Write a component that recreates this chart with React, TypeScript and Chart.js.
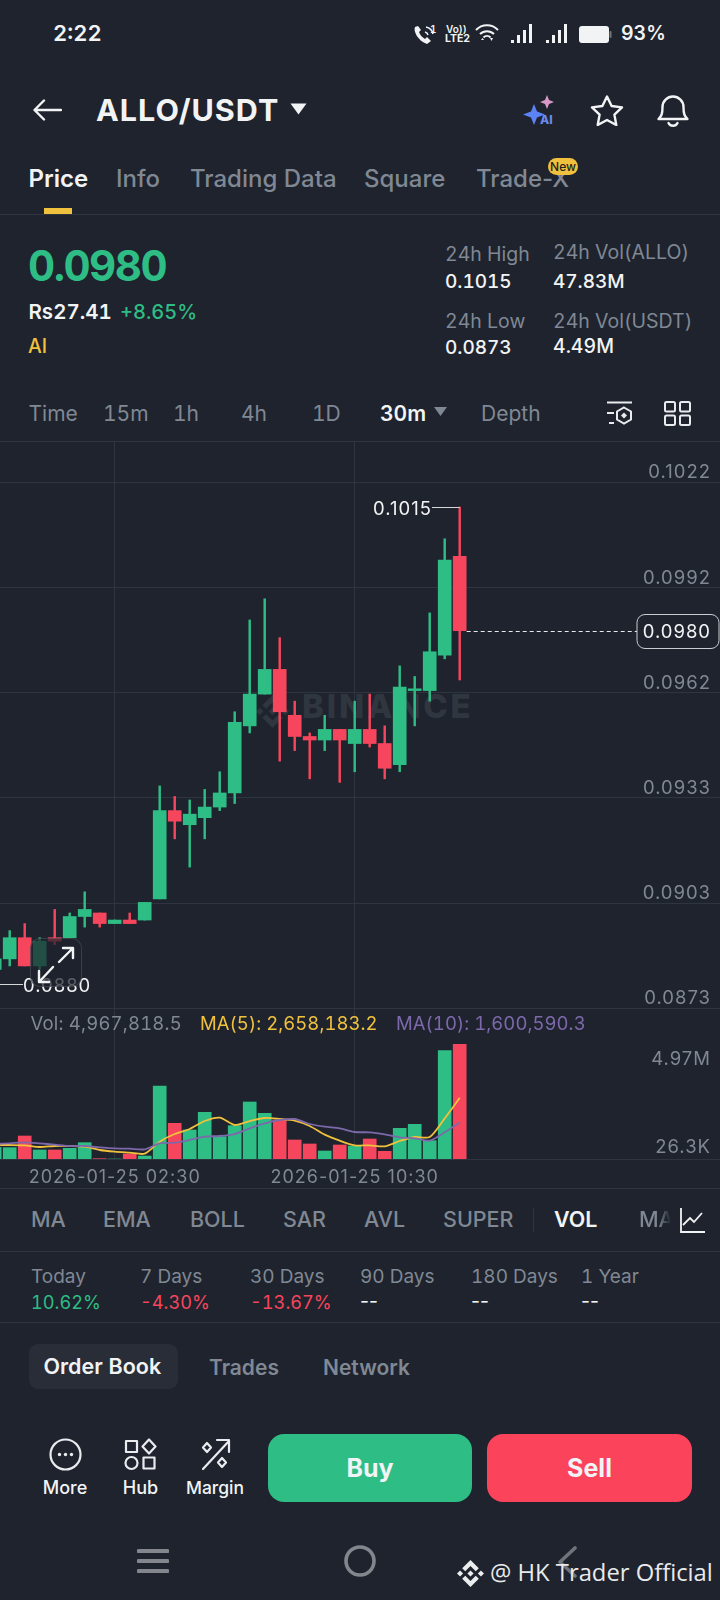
import React, { useEffect, useRef } from "react";
import { Chart, registerables } from "chart.js";

Chart.register(...registerables);

const candleTimes = [
  "2026-01-24 22:30", "2026-01-24 23:00", "2026-01-24 23:30", "2026-01-25 00:00",
  "2026-01-25 00:30", "2026-01-25 01:00", "2026-01-25 01:30", "2026-01-25 02:00",
  "2026-01-25 02:30", "2026-01-25 03:00", "2026-01-25 03:30", "2026-01-25 04:00",
  "2026-01-25 04:30", "2026-01-25 05:00", "2026-01-25 05:30", "2026-01-25 06:00",
  "2026-01-25 06:30", "2026-01-25 07:00", "2026-01-25 07:30", "2026-01-25 08:00",
  "2026-01-25 08:30", "2026-01-25 09:00", "2026-01-25 09:30", "2026-01-25 10:00",
  "2026-01-25 10:30", "2026-01-25 11:00", "2026-01-25 11:30", "2026-01-25 12:00",
  "2026-01-25 12:30", "2026-01-25 13:00", "2026-01-25 13:30", "2026-01-25 14:00",
];
const opens = [0.0884, 0.0887, 0.0893, 0.0885, 0.0893, 0.0893, 0.0899, 0.09, 0.0897, 0.0898, 0.0898, 0.0904, 0.0929, 0.0925, 0.0927, 0.093, 0.0934, 0.0953, 0.0962, 0.0969, 0.0956, 0.095, 0.0949, 0.0952, 0.0948, 0.0952, 0.0948, 0.0942, 0.0963, 0.0963, 0.0973, 0.1001];
const highs = [0.0887, 0.0895, 0.0897, 0.0893, 0.0901, 0.09, 0.0906, 0.09, 0.0898, 0.09, 0.0903, 0.0936, 0.0933, 0.0932, 0.0935, 0.094, 0.0957, 0.0983, 0.0989, 0.0978, 0.096, 0.0951, 0.0956, 0.0952, 0.096, 0.0962, 0.0953, 0.097, 0.0967, 0.0985, 0.1006, 0.1015];
const lows = [0.088, 0.0885, 0.0885, 0.0884, 0.0891, 0.0893, 0.0896, 0.0896, 0.0897, 0.0897, 0.0898, 0.0904, 0.0921, 0.0913, 0.0921, 0.0929, 0.0931, 0.0951, 0.0962, 0.0943, 0.0946, 0.0938, 0.0946, 0.0937, 0.094, 0.0947, 0.0938, 0.094, 0.0953, 0.096, 0.0972, 0.0966];
const closes = [0.0887, 0.0893, 0.0885, 0.0892, 0.0892, 0.0899, 0.0901, 0.0897, 0.0898, 0.0897, 0.0903, 0.0929, 0.0926, 0.0928, 0.093, 0.0934, 0.0954, 0.0962, 0.0969, 0.0957, 0.095, 0.0949, 0.0952, 0.0949, 0.0952, 0.0948, 0.0941, 0.0964, 0.09635, 0.0974, 0.1, 0.098];
const volumes = [529000, 515000, 1017000, 414000, 414000, 486000, 730000, 40000, 26300, 242000, 155000, 3171000, 1563000, 1276000, 2037000, 988000, 1462000, 2482000, 1994000, 1706000, 845000, 673000, 371000, 630000, 586000, 888000, 357000, 1347000, 1520000, 816000, 4693000, 4967818.5];
const ma5 = [629000, 629000, 615000, 543000, 586000, 586000, 558000, 414000, 342000, 299000, 256000, 773000, 1103000, 1319000, 1663000, 1807000, 1491000, 1663000, 1793000, 1750000, 1678000, 1448000, 1075000, 816000, 615000, 615000, 572000, 802000, 974000, 974000, 1778000, 2658183.2];
const ma10 = [673000, 701000, 744000, 701000, 644000, 586000, 586000, 529000, 486000, 471000, 443000, 701000, 730000, 845000, 988000, 1017000, 1103000, 1347000, 1563000, 1706000, 1750000, 1534000, 1419000, 1347000, 1189000, 1175000, 1089000, 960000, 917000, 816000, 1175000, 1600590.3];
const priceTicks = [0.1022, 0.09922, 0.09624, 0.09326, 0.09028, 0.0873];
const volTickValues = [4334000, 543000];
const volTickLabels = ["4.97M", "26.3K"];
const timeTickIndexes = [8, 24];
const lastPrice = 0.098;
const highMark = 0.1015;
const lowMark = 0.088;

const BG = "#1e232d";
const GRID = "#2f353f";
const UP = "#2ebd85";
const DOWN = "#f6465d";
const GRAY = "#808894";
const WHITE = "#f2f3f5";
const YELLOW = "#f0c13c";
const PURPLE = "#7d68ab";
const FONT = "Inter, 'Noto Sans', sans-serif";
const LOGO =
  "M38.73 53.2l24.59-24.58 24.6 24.6 14.3-14.31L63.32 0 24.42 38.9l14.31 14.3zM0 63.31l14.3-14.31 14.31 14.31-14.31 14.3zM38.73 73.41l24.59 24.59 24.6-24.6 14.31 14.29-38.9 38.91-38.91-38.88v-.03zM97.99 63.31l14.3-14.31 14.32 14.31-14.31 14.3zM77.83 63.3L63.32 48.78 52.59 59.51l-1.24 1.23-2.54 2.54 14.51 14.5 14.5-14.47v-.01z";

const xMin = 0.353;
const xMax = 48.353;
const candleColors = closes.map((c, i) => (c >= opens[i] ? UP : DOWN));

const spacedText = {
  id: "spacedText",
  beforeDraw(chart: any) {
    chart.ctx.letterSpacing = "1px";
  },
};

const priceOverlay = {
  id: "priceOverlay",
  afterDatasetsDraw(chart: any) {
    const { ctx, scales } = chart;
    const xs = scales.x;
    const ys = scales.y;
    ctx.save();
    ctx.font = `18.5px ${FONT}`;
    ctx.textBaseline = "middle";

    const yLast = Math.round(ys.getPixelForValue(lastPrice)) + 0.5;
    const xLast = xs.getPixelForValue(closes.length - 1) + 7;
    ctx.strokeStyle = "#e8eaed";
    ctx.lineWidth = 1;
    ctx.setLineDash([4, 3]);
    ctx.beginPath();
    ctx.moveTo(xLast, yLast);
    ctx.lineTo(637, yLast);
    ctx.stroke();
    ctx.setLineDash([]);
    ctx.strokeStyle = "#c9ccd1";
    ctx.fillStyle = BG;
    ctx.beginPath();
    ctx.roundRect(637, yLast - 17, 82, 34, 8);
    ctx.fill();
    ctx.stroke();
    ctx.fillStyle = WHITE;
    ctx.textAlign = "right";
    ctx.fillText(lastPrice.toFixed(4), 711, yLast + 1);

    const yHigh = Math.round(ys.getPixelForValue(highMark)) + 0.5;
    const xHigh = xs.getPixelForValue(closes.length - 1);
    ctx.strokeStyle = "#d5d7da";
    ctx.beginPath();
    ctx.moveTo(432, yHigh);
    ctx.lineTo(xHigh, yHigh);
    ctx.stroke();
    ctx.fillStyle = WHITE;
    ctx.fillText(highMark.toFixed(4), 432, yHigh + 2);

    const yLow = Math.round(ys.getPixelForValue(lowMark)) + 0.5;
    ctx.beginPath();
    ctx.moveTo(0, yLow);
    ctx.lineTo(23, yLow);
    ctx.stroke();
    ctx.textAlign = "left";
    ctx.fillText(lowMark.toFixed(4), 23, yLow + 2);
    ctx.restore();
  },
};

function T({ x, y, s, c = GRAY, w = 400, children, center, font, style }: any) {
  return (
    <div
      style={{
        position: "absolute",
        left: x,
        top: y,
        transform: center ? "translate(-50%,-50%)" : "translateY(-50%)",
        fontSize: s,
        color: c,
        fontWeight: w,
        whiteSpace: "nowrap",
        lineHeight: 1,
        fontFamily: font || FONT,
        fontVariantNumeric: "tabular-nums",
        zIndex: 3,
        ...style,
      }}
    >
      {children}
    </div>
  );
}

function Line({ y, color = GRID }: any) {
  return <div style={{ position: "absolute", left: 0, top: y, width: 720, height: 1, background: color }} />;
}

function Icon({ x, y, w, h, vb, children, style }: any) {
  return (
    <svg
      style={{ position: "absolute", left: x, top: y, zIndex: 3, ...style }}
      width={w}
      height={h}
      viewBox={vb || `0 0 ${w} ${h}`}
      fill="none"
    >
      {children}
    </svg>
  );
}

const sharedX = {
  type: "linear",
  min: xMin,
  max: xMax,
  offset: false,
  afterBuildTicks: (axis: any) => {
    axis.ticks = timeTickIndexes.map((value) => ({ value }));
  },
  grid: { color: GRID, lineWidth: 1, drawTicks: false, offset: false },
  border: { display: false },
};

const noMargins = (axis: any) => {
  axis.paddingTop = 0;
  axis.paddingBottom = 0;
  axis.paddingLeft = 0;
  axis.paddingRight = 0;
};

const mirroredY = (axis: any) => {
  noMargins(axis);
  axis.width = 0;
};

export default function App() {
  const priceRef = useRef<HTMLCanvasElement>(null);
  const volRef = useRef<HTMLCanvasElement>(null);

  useEffect(() => {
    document.body.style.margin = "0";
    document.body.style.background = BG;

    const price = new Chart(priceRef.current as any, {
      type: "bar",
      data: {
        datasets: [
          {
            label: "Body",
            data: closes.map((c, i) => ({ x: i, y: [opens[i], c] })),
            backgroundColor: candleColors,
            barThickness: 13,
            grouped: false,
            order: 1,
          },
          {
            label: "Wick",
            data: closes.map((_, i) => ({ x: i, y: [lows[i], highs[i]] })),
            backgroundColor: candleColors,
            barThickness: 1.8,
            grouped: false,
            order: 2,
          },
        ],
      } as any,
      options: {
        animation: false,
        responsive: false,
        layout: { padding: 0 },
        plugins: { legend: { display: false }, tooltip: { enabled: false } },
        scales: {
          x: { ...sharedX, ticks: { display: false }, afterFit: noMargins },
          y: {
            type: "linear",
            position: "right",
            min: 0.08728,
            max: 0.10337,
            afterFit: mirroredY,
            afterBuildTicks: (axis: any) => {
              axis.ticks = priceTicks.map((value) => ({ value }));
            },
            grid: { color: GRID, lineWidth: 1, drawTicks: false },
            border: { display: false },
            ticks: {
              mirror: true,
              padding: -9,
              labelOffset: -9.5,
              autoSkip: false,
              color: GRAY,
              font: { family: FONT, size: 18.5 },
              callback: (v: any) => Number(v).toFixed(4),
            },
          },
        },
      } as any,
      plugins: [spacedText, priceOverlay],
    });

    const vol = new Chart(volRef.current as any, {
      type: "bar",
      data: {
        datasets: [
          {
            type: "line",
            label: "MA(10)",
            data: ma10.map((y, x) => ({ x, y })),
            borderColor: PURPLE,
            borderWidth: 1.8,
            pointRadius: 0,
            tension: 0.25,
            order: 1,
          },
          {
            type: "line",
            label: "MA(5)",
            data: ma5.map((y, x) => ({ x, y })),
            borderColor: YELLOW,
            borderWidth: 1.8,
            pointRadius: 0,
            tension: 0.25,
            order: 2,
          },
          {
            type: "bar",
            label: "Vol",
            data: volumes.map((y, x) => ({ x, y })),
            backgroundColor: candleColors,
            barThickness: 13,
            order: 3,
          },
        ],
      } as any,
      options: {
        animation: false,
        responsive: false,
        layout: { padding: 0 },
        plugins: { legend: { display: false }, tooltip: { enabled: false } },
        scales: {
          x: {
            ...sharedX,
            afterFit: (axis: any) => {
              noMargins(axis);
              axis.height = 31;
            },
            border: { display: true, color: GRID },
            ticks: {
              autoSkip: false,
              maxRotation: 0,
              padding: 8,
              color: GRAY,
              font: { family: FONT, size: 18 },
              callback: (v: any) => candleTimes[v],
            },
          },
          y: {
            type: "linear",
            position: "right",
            min: 26300,
            max: 6531000,
            afterFit: mirroredY,
            afterBuildTicks: (axis: any) => {
              axis.ticks = volTickValues.map((value) => ({ value }));
            },
            grid: { display: false },
            border: { display: false },
            ticks: {
              mirror: true,
              padding: -9,
              autoSkip: false,
              color: GRAY,
              font: { family: FONT, size: 18.5 },
              callback: (_: any, i: number) => volTickLabels[i],
            },
          },
        },
      } as any,
      plugins: [spacedText],
    });

    return () => {
      price.destroy();
      vol.destroy();
    };
  }, []);

  const arrowStroke = { stroke: WHITE, strokeWidth: 2.4, strokeLinecap: "round", strokeLinejoin: "round" } as any;
  const grayIcon = { stroke: "#e9ebee", strokeWidth: 2.2, strokeLinejoin: "round", strokeLinecap: "round" } as any;

  return (
    <div style={{ position: "relative", width: 720, height: 1600, background: BG, overflow: "hidden", fontFamily: FONT }}>
      {/* status bar */}
      <T x={53} y={33} s={22} c={WHITE} w={600}>2:22</T>
      <Icon x={412} y={24} w={24} h={22} vb="0 0 24 22">
        <path d="M3 3c-2 4 3 14 12 17l4-3-4-4-2 2c-3-2-5-4-6-7l2-2-3-4z" fill={WHITE} />
        <path d="M13 8a4 4 0 0 1 3 3M14 3a9 9 0 0 1 7 7" stroke={WHITE} strokeWidth="1.6" />
      </Icon>
      <T x={430} y={29} s={10} c={WHITE} w={600}>1</T>
      <T x={446} y={29} s={10} c={WHITE} w={600}>Vo))</T>
      <T x={445} y={39} s={10.5} c={WHITE} w={700}>LTE2</T>
      <Icon x={475} y={24} w={24} h={20} vb="0 0 24 20">
        <path d="M1 6a15 15 0 0 1 22 0M5 10a10 10 0 0 1 14 0M8.5 13.5a5 5 0 0 1 7 0" stroke={WHITE} strokeWidth="2" />
        <path d="M6 16l1.500-2 1.500 2zM15 14h3l-1.500 3z" fill={WHITE} />
      </Icon>
      {[511, 546].map((x) => (
        <Icon key={x} x={x} y={24} w={22} h={20} vb="0 0 22 20">
          <rect x="0" y="16" width="3" height="3" fill={WHITE} />
          <rect x="6" y="11" width="3" height="8" fill={WHITE} />
          <rect x="12" y="6" width="3" height="13" fill={WHITE} />
          <rect x="18" y="0" width="3" height="19" fill={WHITE} />
        </Icon>
      ))}
      <Icon x={579} y={26} w={33} h={18} vb="0 0 33 18">
        <rect x="0" y="0" width="30" height="17" rx="3" fill={WHITE} />
        <rect x="30.500" y="5" width="2" height="7" rx="1" fill="#777" />
      </Icon>
      <T x={621} y={34} s={19.5} c={WHITE} w={600}>93%</T>

      {/* header */}
      <Icon x={32} y={98} w={30} h={24} vb="0 0 30 24">
        <path d="M29 12H3M12 2.500L2.500 12l9.500 9.500" stroke={WHITE} strokeWidth="2.4" strokeLinecap="round" strokeLinejoin="round" />
      </Icon>
      <T x={96} y={110} s={30.5} c={WHITE} w={700} style={{ letterSpacing: 1 }}>ALLO/USDT</T>
      <Icon x={290} y={103} w={17} h={12} vb="0 0 17 12">
        <path d="M0.500 0.500h16L8.500 11.500z" fill={WHITE} />
      </Icon>
      <Icon x={522} y={94} w={36} h={32} vb="0 0 36 32">
        <path d="M12 10l3 7.500 8 3-8 3-3 7.500-3-7.500-8-3 8-3z" fill="#5c82f5" />
        <path d="M25 1l2 5 5 2-5 2-2 5-2-5-5-2 5-2z" fill="#d999c8" />
        <text x="18" y="30" fontSize="12" fontWeight="800" fill="#6b8af0" fontFamily={FONT}>AI</text>
      </Icon>
      <Icon x={590} y={94} w={34} h={32} vb="0 0 34 32">
        <path d="M17 2.500l4.600 9.500 10.400 1.400-7.600 7.200 1.900 10.400L17 26l-9.300 5 1.900-10.400L2 13.400 12.400 12z" stroke={WHITE} strokeWidth="2.400" strokeLinejoin="round" />
      </Icon>
      <Icon x={656} y={92} w={34} h={36} vb="0 0 34 36">
        <path d="M2.500 27c3-3 4-5 4-12a10.500 10.500 0 0 1 21 0c0 7 1 9 4 12z" stroke={WHITE} strokeWidth="2.400" strokeLinejoin="round" />
        <path d="M12.500 31a5 5 0 0 0 9 0" stroke={WHITE} strokeWidth="2.400" strokeLinecap="round" />
      </Icon>

      {/* tabs */}
      <T x={28.5} y={179} s={24} c={WHITE} w={600}>Price</T>
      <T x={116} y={179} s={24} w={500}>Info</T>
      <T x={190} y={179} s={24} w={500}>Trading Data</T>
      <T x={364} y={179} s={24} w={500}>Square</T>
      <T x={476} y={179} s={24} w={500} style={{ fontVariantNumeric: "normal" }}>Trade-X</T>
      <div style={{ position: "absolute", left: 548, top: 158, width: 30, height: 17, borderRadius: 9, background: YELLOW, zIndex: 4, display: "flex", alignItems: "center", justifyContent: "center", fontSize: 12, color: "#222", fontWeight: 500 }}>New</div>
      <div style={{ position: "absolute", left: 43.5, top: 208, width: 28.5, height: 6, background: YELLOW }} />
      <Line y={214} />

      {/* price summary */}
      <T x={28} y={266} s={42} c={UP} w={700} style={{ letterSpacing: -1.5 }}>0.0980</T>
      <T x={28.5} y={312} s={20.5} c={WHITE} w={600}>Rs27.41</T>
      <T x={120} y={312} s={20} c={UP} w={500}>+8.65%</T>
      <T x={28} y={347} s={19.5} c={YELLOW} w={500}>AI</T>
      <T x={445} y={255} s={19.5}>24h High</T>
      <T x={445} y={280.5} s={19} c={WHITE} w={500}>0.1015</T>
      <T x={445} y={322} s={19.5}>24h Low</T>
      <T x={445} y={347} s={19} c={WHITE} w={500}>0.0873</T>
      <T x={553} y={253} s={19.5}>24h Vol(ALLO)</T>
      <T x={553} y={280.5} s={19} c={WHITE} w={500}>47.83M</T>
      <T x={553} y={322} s={19.5}>24h Vol(USDT)</T>
      <T x={553} y={347} s={19.5} c={WHITE} w={500}>4.49M</T>

      {/* interval row */}
      <T x={28.5} y={413} s={21}>Time</T>
      <T x={103} y={413} s={21}>15m</T>
      <T x={173} y={413} s={21}>1h</T>
      <T x={241} y={413} s={21}>4h</T>
      <T x={312} y={413} s={21}>1D</T>
      <T x={380} y={413} s={21} c={WHITE} w={600}>30m</T>
      <Icon x={434} y={407} w={13} h={9} vb="0 0 13 9">
        <path d="M0 0h13L6.500 9z" fill={GRAY} />
      </Icon>
      <T x={481} y={413} s={21}>Depth</T>
      <Icon x={606} y={401} w={28} h={25} vb="0 0 28 25">
        <path d="M1 1.500h25M1 12h7M3 22h5" stroke="#e9ebee" strokeWidth="2" />
        <path d="M18 6.500l7 4v8l-7 4-7-4v-8z" stroke="#e9ebee" strokeWidth="2" />
        <path d="M18 11.500l3 3-3 3-3-3z" fill="#e9ebee" />
      </Icon>
      <Icon x={664} y={401} w={27} h={25} vb="0 0 27 25">
        <rect x="1" y="1" width="10" height="9.500" rx="1.500" stroke="#e9ebee" strokeWidth="2" />
        <rect x="16" y="1" width="10" height="9.500" rx="1.500" stroke="#e9ebee" strokeWidth="2" />
        <rect x="1" y="14.500" width="10" height="9.500" rx="1.500" stroke="#e9ebee" strokeWidth="2" />
        <rect x="16" y="14.500" width="10" height="9.500" rx="1.500" stroke="#e9ebee" strokeWidth="2" />
      </Icon>
      <Line y={441} />

      {/* watermark */}
      <svg style={{ position: "absolute", left: 256, top: 695 }} width="33" height="33" viewBox="0 0 126.610 126.610">
        <path d={LOGO} fill="#30363f" />
      </svg>
      <div style={{ position: "absolute", left: 302, top: 706, transform: "translateY(-50%)", fontSize: 33, lineHeight: 1, fontWeight: 800, color: "#30363f", letterSpacing: 2.8, fontFamily: FONT }}>BINANCE</div>

      {/* charts */}
      <canvas ref={priceRef} width={720} height={568} style={{ position: "absolute", left: 0, top: 441, zIndex: 1 }} />
      <canvas ref={volRef} width={720} height={182} style={{ position: "absolute", left: 0, top: 1008, zIndex: 1 }} />

      {/* expand button */}
      <div style={{ position: "absolute", left: 30, top: 938, width: 52, height: 49, borderRadius: 10, border: "1px solid rgba(255,255,255,0.13)", background: "rgba(30,35,45,0.72)", boxSizing: "border-box", zIndex: 2 }} />
      <Icon x={36} y={945} w={40} h={40} vb="0 0 40 40">
        <path d="M23 17L36 4M27 3h10v10" {...arrowStroke} />
        <path d="M17 22L4 36M3 26v11h10" {...arrowStroke} />
      </Icon>

      {/* volume legend */}
      <T x={30.5} y={1023} s={18.5} style={{ letterSpacing: 0.2 }}>Vol: 4,967,818.5</T>
      <T x={200} y={1023} s={18.5} c={YELLOW} style={{ letterSpacing: 0.05 }}>MA(5): 2,658,183.2</T>
      <T x={396} y={1023} s={18.5} c={PURPLE} style={{ letterSpacing: 0.05 }}>MA(10): 1,600,590.3</T>
      <Line y={1188} />

      {/* indicators */}
      {[["MA", 31], ["EMA", 103], ["BOLL", 190], ["SAR", 283], ["AVL", 364], ["SUPER", 443]].map(([t, x]: any) => (
        <T key={t} x={x} y={1220} s={21.5} w={500}>{t}</T>
      ))}
      <div style={{ position: "absolute", left: 533, top: 1208, width: 1, height: 24, background: GRID }} />
      <T x={554} y={1220} s={21.5} c={WHITE} w={600}>VOL</T>
      <T x={639} y={1220} s={21.5} w={500} style={{ width: 32, overflow: "hidden", WebkitMaskImage: "linear-gradient(to right,#000 60%,transparent)" }}>MACD</T>
      <Icon x={679} y={1207} w={27} h={27} vb="0 0 27 27">
        <path d="M2 1v24h24" stroke={WHITE} strokeWidth="1.800" />
        <path d="M4 18l7-7 4 4 8-9" stroke={WHITE} strokeWidth="1.800" />
      </Icon>
      <Line y={1251} />

      {/* period performance */}
      {[["Today", 31, "10.62%", UP], ["7 Days", 140, "-4.30%", DOWN], ["30 Days", 250, "-13.67%", DOWN], ["90 Days", 360, "--", WHITE], ["180 Days", 471, "--", WHITE], ["1 Year", 581, "--", WHITE]].map(([a, x, b, c]: any) => (
        <React.Fragment key={a}>
          <T x={x} y={1276} s={19}>{a}</T>
          <T x={x} y={1302} s={b === "--" ? 19.5 : 18.2} c={c} style={b === "--" ? { fontVariantNumeric: "normal" } : undefined}>{b}</T>
        </React.Fragment>
      ))}
      <Line y={1322} />

      {/* tabs */}
      <div style={{ position: "absolute", left: 28.5, top: 1344, width: 149.5, height: 45, borderRadius: 9, background: "#282d38" }} />
      <T x={43.5} y={1366.5} s={21.5} c={WHITE} w={600}>Order Book</T>
      <T x={209} y={1366.5} s={21} w={600}>Trades</T>
      <T x={323} y={1366.5} s={21} w={600}>Network</T>

      {/* actions */}
      <Icon x={49} y={1438} w={33} h={33} vb="0 0 33 33">
        <circle cx="16.500" cy="16.500" r="15" stroke="#e9ebee" strokeWidth="2.200" />
        <circle cx="10.500" cy="16.500" r="1.700" fill="#e9ebee" />
        <circle cx="16.500" cy="16.500" r="1.700" fill="#e9ebee" />
        <circle cx="22.500" cy="16.500" r="1.700" fill="#e9ebee" />
      </Icon>
      <T x={65} y={1488} s={18} c={WHITE} w={500} center>More</T>
      <Icon x={124} y={1438} w={33} h={33} vb="0 0 33 33">
        <rect x="2" y="3" width="11" height="11" {...grayIcon} />
        <path d="M25 1.500l6.500 7-6.500 7-6.500-7z" {...grayIcon} />
        <circle cx="7.500" cy="25" r="6" {...grayIcon} />
        <rect x="19.500" y="19.500" width="11" height="11" {...grayIcon} />
      </Icon>
      <T x={140.5} y={1488} s={18} c={WHITE} w={500} center>Hub</T>
      <Icon x={201} y={1438} w={30} h={33} vb="0 0 30 33">
        <path d="M2 31L28 3M16 2h12v12" {...grayIcon} />
        <path d="M6 5l4 4.500-4 4.500-4-4.500zM21 20l4 4.500-4 4.500-4-4.500z" {...grayIcon} />
      </Icon>
      <T x={215} y={1488} s={17.5} c={WHITE} w={500} center>Margin</T>
      <div style={{ position: "absolute", left: 268, top: 1434, width: 204, height: 68, borderRadius: 16, background: UP }} />
      <T x={370} y={1468} s={25} c={WHITE} w={700} center>Buy</T>
      <div style={{ position: "absolute", left: 487, top: 1434, width: 205, height: 68, borderRadius: 16, background: "#fb435c" }} />
      <T x={589.5} y={1468} s={25} c={WHITE} w={700} center>Sell</T>

      {/* navigation */}
      <Icon x={137} y={1548} w={32} h={26} vb="0 0 32 26">
        <path d="M1.500 3h29M1.500 13h29M1.500 23h29" stroke="#83878d" strokeWidth="4" strokeLinecap="round" />
      </Icon>
      <Icon x={343} y={1544} w={34} h={34} vb="0 0 34 34">
        <circle cx="17" cy="17" r="14" stroke="#83878d" strokeWidth="3.600" />
      </Icon>
      <Icon x={556} y={1546} w={22} h={32} vb="0 0 22 32">
        <path d="M19 2L4 16l15 14" stroke="#6f747b" strokeWidth="3.600" strokeLinecap="round" strokeLinejoin="round" />
      </Icon>

      {/* attribution */}
      <svg style={{ position: "absolute", left: 457, top: 1560, zIndex: 4 }} width="27" height="27" viewBox="0 0 126.610 126.610">
        <path d={LOGO} fill="#eceded" />
      </svg>
      <T x={490} y={1573} s={23.8} c="#e9eaeb" font="'Open Sans', sans-serif" style={{ zIndex: 4 }}>@ HK Trader Official</T>
    </div>
  );
}
